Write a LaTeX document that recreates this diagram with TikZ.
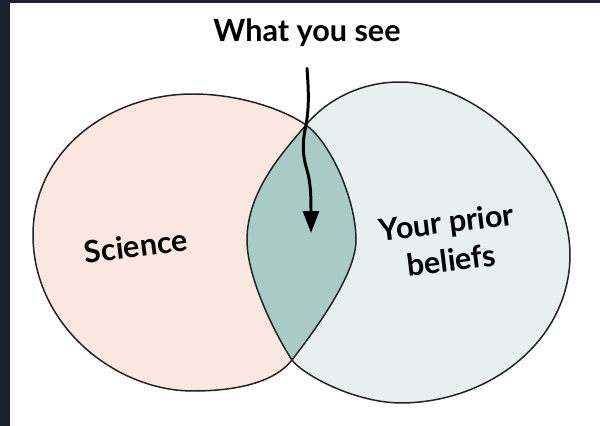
\documentclass[tikz,border=0pt]{standalone}
\usepackage{fontspec}
\setmainfont{Lato}
\usetikzlibrary{arrows.meta}
\definecolor{frame}{HTML}{1B2130}
\definecolor{peach}{HTML}{FAE8E0}
\definecolor{mist}{HTML}{E7F0EF}
\definecolor{lens}{HTML}{A9CBC7}
\definecolor{ink}{HTML}{222222}

\begin{document}
\begin{tikzpicture}[x=0.02cm,y=-0.02cm,font=\bfseries\fontsize{17.4}{22}\selectfont,
  blob/.style={draw=ink,line width=0.85pt},
  lbl/.style={rotate=7,align=center,inner sep=0pt},
  arr/.style={-{Triangle[length=0.44cm,width=0.32cm]},line width=1.7pt,line cap=round}]
\useasboundingbox (0,0) rectangle (600,426);
\fill[white] (0,0) rectangle (600,426);
\fill[frame] (0,0) rectangle (10,426);
\fill[frame] (0,0) rectangle (600,3);
\def\sci{(33,235) .. controls (33,150) and (110,94) .. (193,94)
  .. controls (240,94) and (285,110) .. (306,125)
  .. controls (331,143) and (356,200) .. (356,240)
  .. controls (356,275) and (315,330) .. (292,360)
  .. controls (274,383) and (235,391) .. (193,391)
  .. controls (115,391) and (33,325) .. (33,235) -- cycle}
\def\prior{(306,125) .. controls (322,105) and (355,82) .. (400,82)
  .. controls (480,82) and (570,170) .. (570,255)
  .. controls (570,340) and (490,403) .. (400,403)
  .. controls (350,402) and (300,372) .. (292,360)
  .. controls (278,339) and (247,280) .. (247,240)
  .. controls (247,190) and (285,150) .. (306,125) -- cycle}
\fill[peach] \sci;
\fill[mist] \prior;
\begin{scope}
  \clip \sci;
  \fill[lens] \prior;
\end{scope}
\draw[blob] \sci;
\draw[blob] \prior;
% labels
\node[anchor=base] (title) at (307,42) {What you see};
\node[lbl] (science) at (136,246) {Science};
\node[lbl] (beliefs) at (449,241) {Your prior\\beliefs};
\coordinate (tip) at (311,233);
\draw[arr] ([yshift=-0.3cm]title.south) .. controls (309,95) and (309,112) .. (305,130)
  .. controls (302,145) and (303,157) .. (307,170)
  .. controls (311,183) and (311,200) .. (tip);
\end{tikzpicture}
\end{document}
